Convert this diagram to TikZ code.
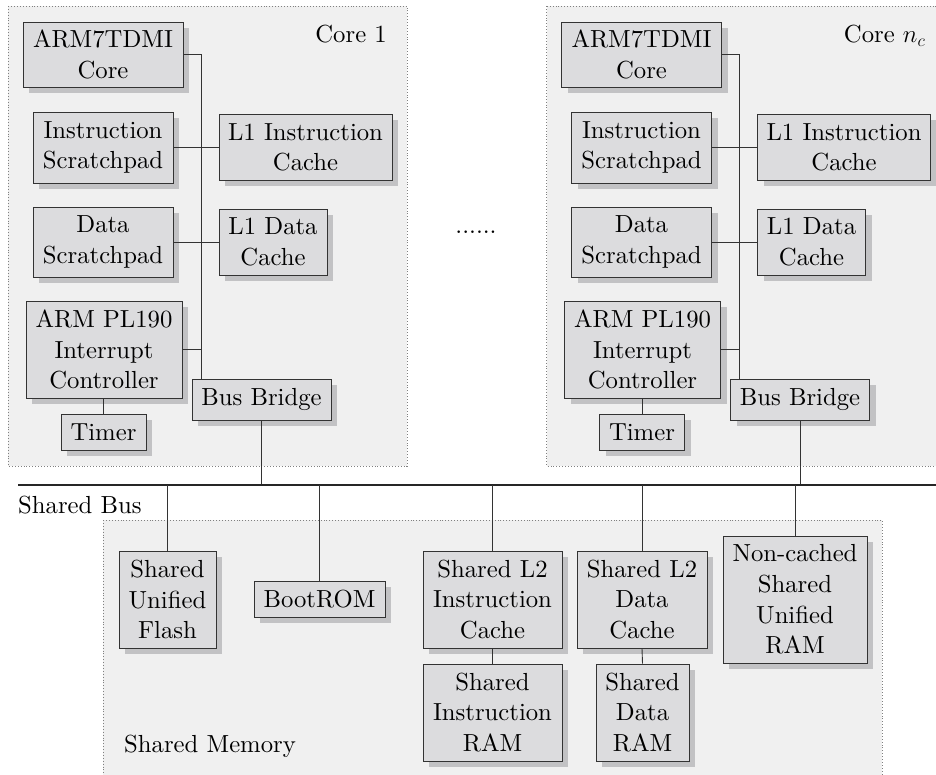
\documentclass[tikz,border=0pt]{standalone}
\usepackage{fontspec}
\setmainfont{lmroman10-regular.otf}[BoldFont=lmroman10-bold.otf, ItalicFont=lmroman10-italic.otf]
\usetikzlibrary{shadows}
\definecolor{boxfill}{HTML}{DCDCDE}
\definecolor{shfill}{HTML}{C2C2C4}
\definecolor{contfill}{HTML}{F0F0F0}
\definecolor{linec}{HTML}{333333}
\tikzset{
  blk/.style={draw=linec, fill=boxfill, line width=0.9pt, align=center, inner sep=0pt,
    minimum width=#1, drop shadow={shadow xshift=6pt, shadow yshift=-6pt, fill=shfill, opacity=1}},
  cont/.style={draw=gray, dotted, line width=0.9pt, fill=contfill},
  conn/.style={draw=linec, line width=0.9pt},
  busline/.style={draw=black!85, line width=1.6pt},
  lbl/.style={inner sep=0pt}
}
\newcommand\drawcore[3]{%
  \begin{scope}[xshift=#2]
    \draw[cont] (8,6) rectangle (407,466);
    \node[lbl, anchor=base east] (#1lab) at (387,43) {#3};
    \node[blk=160pt, minimum height=65pt] (#1core) at (103,54.5) {ARM7TDMI\\Core};
    \node[blk=140pt, minimum height=71pt] (#1isp) at (103,147.5) {Instruction\\Scratchpad};
    \node[blk=173pt, minimum height=66pt] (#1lii) at (305.5,147.5) {L1 Instruction\\Cache};
    \node[blk=140pt, minimum height=70pt] (#1dsp) at (103,242) {Data\\Scratchpad};
    \node[blk=108pt, minimum height=66pt] (#1lid) at (273,242) {L1 Data\\Cache};
    \node[blk=156pt, minimum height=97pt] (#1pic) at (104,349.5) {ARM PL190\\Interrupt\\Controller};
    \node[blk=139pt, minimum height=41pt] (#1bb) at (261.5,399.5) {Bus Bridge};
    \node[blk=85pt, minimum height=36pt] (#1tim) at (103.5,432) {Timer};
    \coordinate (#1trunk) at (201,379);
    \draw[conn] (#1core.east) -| (#1trunk);
    \draw[conn] (#1isp.east) -- (#1lii.west);
    \draw[conn] (#1dsp.east) -- (#1lid.west);
    \draw[conn] (#1pic.east) -- (#1pic.east -| #1trunk);
    \draw[conn] (#1tim.north) -- (#1tim.north |- #1pic.south);
    \draw[conn] (#1bb.south) -- (#1bb.south |- bus);
  \end{scope}}
\begin{document}
\begin{tikzpicture}[x=1pt, y=-1pt, font=\fontsize{24.7}{30.6}\selectfont]
  \useasboundingbox (0,0) rectangle (936,775);
  \clip (0,0) rectangle (936,775);
  \coordinate (bus) at (0,485);
  \coordinate (busL) at (18,485);
  \coordinate (busR) at (940,485);
  \drawcore{a}{0pt}{Core 1}
  \drawcore{b}{538.5pt}{Core $n_c$}
  \node[lbl] (dots) at (476,232) {......};
  \draw[busline] (busL) -- (busR);
  \node[lbl, anchor=base west] (buslab) at (18,513) {Shared Bus};
  \draw[cont] (103,520) rectangle (882,800);
  \node[lbl, anchor=base west] (memlab) at (124,752) {Shared Memory};
  \node[blk=97pt, minimum height=97pt] (flash) at (167.5,599.5) {Shared\\Unified\\Flash};
  \node[blk=131pt, minimum height=36pt] (boot) at (319.5,599) {BootROM};
  \node[blk=139pt, minimum height=97pt] (ltwoi) at (492.5,599.5) {Shared L2\\Instruction\\Cache};
  \node[blk=139pt, minimum height=97pt] (iram) at (492.5,712.5) {Shared\\Instruction\\RAM};
  \node[blk=130pt, minimum height=97pt] (ltwod) at (642,599.5) {Shared L2\\Data\\Cache};
  \node[blk=93pt, minimum height=97pt] (dram) at (642.5,712.5) {Shared\\Data\\RAM};
  \node[blk=144pt, minimum height=127pt] (ncram) at (795,599.5) {Non-cached\\Shared\\Unified\\RAM};
  \draw[conn] (flash.north) -- (flash.north |- bus);
  \draw[conn] (boot.north) -- (boot.north |- bus);
  \draw[conn] (ltwoi.north) -- (ltwoi.north |- bus);
  \draw[conn] (ltwod.north) -- (ltwod.north |- bus);
  \draw[conn] (ncram.north) -- (ncram.north |- bus);
  \draw[conn] (ltwoi.south) -- (iram.north);
  \draw[conn] (ltwod.south) -- (dram.north);
\end{tikzpicture}
\end{document}
